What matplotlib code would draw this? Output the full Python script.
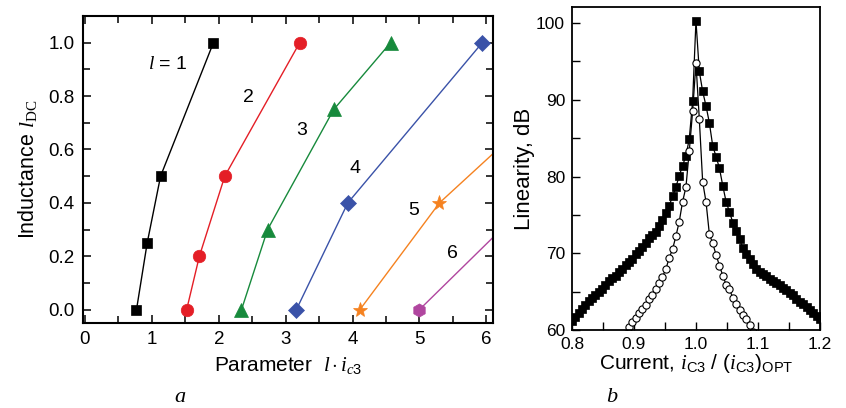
import numpy as np
import matplotlib
matplotlib.use("Agg")
import matplotlib.pyplot as plt
from matplotlib.ticker import MultipleLocator

plt.rcParams["font.family"] = ["Liberation Sans", "DejaVu Sans"]
plt.rcParams["mathtext.fontset"] = "custom"
plt.rcParams["mathtext.rm"] = "Liberation Sans"
plt.rcParams["mathtext.it"] = "Liberation Serif:italic"
plt.rcParams["mathtext.sf"] = "Liberation Serif"

# ---- panel a: inductance vs. parameter l*i_c3 for orders l = 1..6 ----
orders = ["1", "2", "3", "4", "5", "6"]
param_l1 = [0.77, 0.93, 1.13, 1.92]
induct_l1 = [0.0, 0.25, 0.5, 1.0]
param_l2 = [1.52, 1.71, 2.09, 3.21]
induct_l2 = [0.0, 0.2, 0.5, 1.0]
param_l3 = [2.34, 2.73, 3.72, 4.57]
induct_l3 = [0.0, 0.3, 0.75, 1.0]
param_l4 = [3.16, 3.93, 5.94]
induct_l4 = [0.0, 0.4, 1.0]
param_l5 = [4.11, 5.30, 6.20]
induct_l5 = [0.0, 0.4, 0.607]
param_l6 = [5.00, 6.20]
induct_l6 = [0.0, 0.295]

# ---- panel b: linearity vs. normalised current ----
current_ratio = np.linspace(0.8, 1.2, 75)
linearity_sq = [
    61.2, 61.7, 62.2, 62.7, 63.2, 63.8, 64.2, 64.6, 65.0, 65.4,
    65.9, 66.4, 66.8, 67.1, 67.5, 68.0, 68.5, 68.9, 69.3, 69.9,
    70.3, 70.8, 71.4, 72.0, 72.4, 72.8, 73.5, 74.3, 75.2, 76.2,
    77.4, 78.6, 80.1, 81.4, 82.7, 84.9, 89.8, 100.3, 93.7, 91.1,
    89.2, 87.0, 84.0, 82.6, 81.1, 78.8, 76.7, 75.4, 74.0, 72.9,
    71.8, 70.7, 69.9, 69.2, 68.6, 68.0, 67.6, 67.3, 67.0, 66.7,
    66.4, 66.1, 65.8, 65.5, 65.2, 64.8, 64.5, 64.1, 63.7, 63.4,
    63.0, 62.6, 62.2, 61.8, 61.4,
]
linearity_circ = [
    59.5, 60.4, 61.0, 61.6, 62.2, 62.7, 63.3, 64.1, 64.6, 65.3,
    66.1, 66.95, 67.9, 69.4, 70.5, 72.2, 74.1, 76.7, 78.6, 83.3,
    88.5, 94.8, 87.5, 79.3, 76.7, 72.5, 71.3, 69.8, 68.4, 67.1,
    65.9, 65.3, 64.2, 63.4, 62.6, 62.0, 61.4, 60.6, 59.8,
]
circ_start = 16

fig = plt.figure(figsize=(8.46, 4.08), dpi=100)
ax1 = fig.add_axes([0.0981, 0.2083, 0.4846, 0.7525])
ax2 = fig.add_axes([0.6761, 0.1912, 0.2931, 0.7917])

series = [
    (param_l1, induct_l1, "#000000", "s", 7.8),
    (param_l2, induct_l2, "#e41e26", "o", 9.0),
    (param_l3, induct_l3, "#178a3c", "^", 10.5),
    (param_l4, induct_l4, "#3a52a8", "D", 8.5),
    (param_l5, induct_l5, "#f58220", "*", 11.0),
    (param_l6, induct_l6, "#b0469f", "h", 9.5),
]
for xs, ys, col, mk, ms in series:
    ax1.plot(xs, ys, color=col, lw=1.0, marker=mk, ms=ms, mec=col, mfc=col, mew=0.5)

ax1.set_xlim(-0.03, 6.1)
ax1.set_ylim(-0.05, 1.10)
ax1.xaxis.set_minor_locator(MultipleLocator(0.5))
ax1.yaxis.set_minor_locator(MultipleLocator(0.1))
ax1.set_xticks(range(0, 7))
ax1.set_xticklabels([str(v) for v in range(0, 7)])
ax1.set_yticks([0.0, 0.2, 0.4, 0.6, 0.8, 1.0])
ax1.set_yticklabels(["0.0", "0.2", "0.4", "0.6", "0.8", "1.0"])
ax1.tick_params(which="both", direction="in", top=True, right=True, width=1.1,
                labelsize=13.5, pad=6)
ax1.tick_params(which="major", length=6)
ax1.tick_params(which="minor", length=5)
for s in ax1.spines.values():
    s.set_linewidth(1.5)

ax1.set_xlabel(r"Parameter  $l\cdot i_{\mathit{c3}}$", fontsize=15, labelpad=5)
ax1.set_ylabel(r"Inductance $l_{\mathsf{DC}}$", fontsize=15.5, labelpad=7)

label_pos = [(1.24, 0.92), (2.44, 0.795), (3.24, 0.67), (4.03, 0.53), (4.91, 0.37), (5.49, 0.21)]
for i, (name, (lx, ly)) in enumerate(zip(orders, label_pos)):
    txt = r"$l$ = " + name if i == 0 else name
    ax1.text(lx, ly, txt, fontsize=14, ha="center", va="center")

# panel b
ax2.plot(current_ratio, linearity_sq, color="black", lw=0.9, marker="s", ms=5.4,
         mfc="black", mec="black", mew=0.5)
ax2.plot(current_ratio[circ_start:circ_start + len(linearity_circ)], linearity_circ,
         color="black", lw=0.9, marker="o", ms=5.2, mfc="white", mec="black", mew=0.8)

ax2.set_xlim(0.8, 1.2)
ax2.set_ylim(60, 102.1)
ax2.set_xticks([0.8, 0.9, 1.0, 1.1, 1.2])
ax2.set_xticklabels(["0.8", "0.9", "1.0", "1.1", "1.2"])
ax2.xaxis.set_minor_locator(MultipleLocator(0.05))
ax2.set_yticks([60, 70, 80, 90, 100])
ax2.set_yticklabels(["60", "70", "80", "90", "100"])
ax2.yaxis.set_minor_locator(MultipleLocator(5))
ax2.tick_params(which="both", direction="in", width=1.0, labelsize=12.5, pad=5)
ax2.tick_params(which="major", length=6)
ax2.tick_params(which="minor", length=6)
for s in ax2.spines.values():
    s.set_linewidth(1.3)

ax2.set_xlabel(r"Current, $i_{\mathrm{C3}}$ $/$ $(i_{\mathrm{C3}})_{\mathrm{OPT}}$",
               fontsize=15, labelpad=0)
ax2.set_ylabel("Linearity, dB", fontsize=16, labelpad=1)

fig.text(180 / 846, 1 - 397 / 408, r"$a$", fontsize=16, ha="center", va="center")
fig.text(612 / 846, 1 - 397 / 408, r"$b$", fontsize=16, ha="center", va="center")

fig.savefig("out.png", dpi=100)
